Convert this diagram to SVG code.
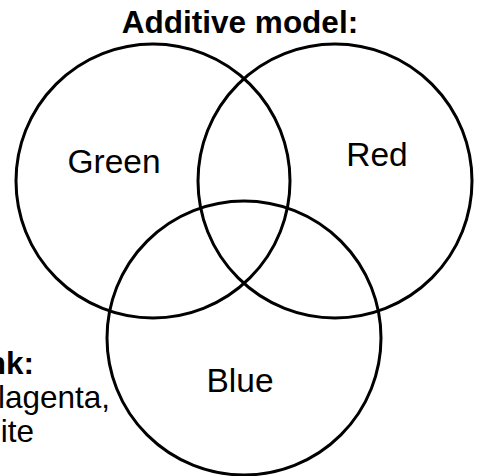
<svg xmlns="http://www.w3.org/2000/svg" width="479" height="476" viewBox="0 0 479 476">
<style>
.c{fill:none;stroke:#000;stroke-width:3}
.t{font-family:"Liberation Sans",Arial,sans-serif;font-size:33.5px;fill:#000}
.n{font-size:31.5px}
.b{font-weight:bold}
</style>
<rect width="479" height="476" fill="#fff"/>
<text class="t b" x="240" y="33" text-anchor="middle" style="font-size:31.5px">Additive model:</text>
<g id="green"><circle class="c" cx="153" cy="181" r="137"/><text class="t" x="114" y="173" text-anchor="middle">Green</text></g>
<g id="red"><circle class="c" cx="335" cy="181" r="137"/><text class="t" x="377" y="166" text-anchor="middle">Red</text></g>
<g id="blue"><circle class="c" cx="244" cy="338" r="137"/><text class="t" x="240" y="392" text-anchor="middle">Blue</text></g>
<g id="note">
<text class="t n b" x="34" y="374" text-anchor="end">nk:</text>
<text class="t n" x="110" y="408" text-anchor="end">lagenta,</text>
<text class="t n" x="34" y="442" text-anchor="end">ite</text>
</g>
</svg>
